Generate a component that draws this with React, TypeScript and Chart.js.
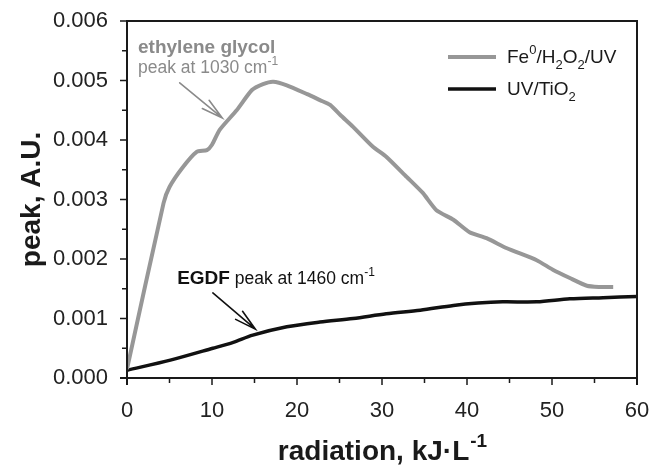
import React, { useEffect, useRef } from "react";
import { Chart, registerables } from "chart.js";

Chart.register(...registerables);

// Fe0/H2O2/UV series (gray)
const grayX = [0, 4.3, 5.0, 6.5, 8.2, 9.4, 10.0, 10.9, 12.9, 14.7, 16.0, 17.2, 18.8, 21.2, 22.7, 23.9, 25.1, 26.6, 28.9, 30.5, 32.9, 34.8, 36.4, 38.4, 40.3, 42.3, 44.7, 48.2, 50.1, 52.1, 54.1, 55.5, 57.2];
const grayY = [0.00015, 0.00294, 0.00321, 0.00353, 0.0038, 0.00383, 0.00392, 0.00417, 0.0045, 0.00484, 0.00494, 0.00498, 0.00492, 0.00477, 0.00467, 0.00459, 0.00442, 0.00422, 0.00389, 0.00372, 0.00338, 0.00311, 0.00282, 0.00266, 0.00245, 0.00235, 0.00218, 0.00198, 0.00182, 0.00168, 0.00155, 0.00153, 0.00153];

// UV/TiO2 series (black)
const blackX = [0, 5.1, 10.1, 12.5, 14.8, 18.8, 22.7, 26.6, 30.5, 34.5, 38.4, 41.3, 44.2, 48.2, 52.1, 56, 60];
const blackY = [0.00013, 0.0003, 0.0005, 0.0006, 0.00072, 0.00086, 0.00094, 0.001, 0.00108, 0.00114, 0.00122, 0.00126, 0.00128, 0.00128, 0.00133, 0.00135, 0.00137];

const xMin = 0, xMax = 60, xStep = 5, xMajor = 10;
const yMin = 0, yMax = 0.006, yStep = 0.0005, yMajor = 0.001;

const FONT = "'Liberation Sans', Arial, sans-serif";
const GRAY_LINE = "#979797";
const GRAY_TEXT = "#8a8a8a";
const BLACK = "#111111";
const AXIS = "#1a1a1a";

type Part = { t: string; s?: "sup" | "sub" };

function drawRich(ctx: CanvasRenderingContext2D, parts: Part[], x: number, y: number, size: number, color: string, bold: boolean) {
  ctx.save();
  ctx.fillStyle = color;
  ctx.textBaseline = "alphabetic";
  ctx.textAlign = "left";
  let cx = x;
  for (const p of parts) {
    const sz = p.s ? Math.round(size * 0.66) : size;
    ctx.font = `${bold ? "bold " : ""}${sz}px ${FONT}`;
    let dy = 0;
    if (p.s === "sup") dy = -size * 0.45;
    if (p.s === "sub") dy = size * 0.3;
    ctx.fillText(p.t, cx, y + dy);
    cx += ctx.measureText(p.t).width;
  }
  ctx.restore();
  return cx;
}

function drawArrow(ctx: CanvasRenderingContext2D, x1: number, y1: number, x2: number, y2: number, color: string) {
  const ang = Math.atan2(y1 - y2, x1 - x2);
  const len = 22;
  const spread = (14 * Math.PI) / 180;
  ctx.save();
  ctx.strokeStyle = color;
  ctx.lineWidth = 1.6;
  ctx.lineCap = "round";
  ctx.beginPath();
  ctx.moveTo(x1, y1);
  ctx.lineTo(x2, y2);
  ctx.moveTo(x2 + len * Math.cos(ang + spread), y2 + len * Math.sin(ang + spread));
  ctx.lineTo(x2, y2);
  ctx.lineTo(x2 + len * Math.cos(ang - spread), y2 + len * Math.sin(ang - spread));
  ctx.stroke();
  ctx.restore();
}

const decorPlugin = {
  id: "decor",
  afterDraw(chart: any) {
    const ctx: CanvasRenderingContext2D = chart.ctx;
    const ca = chart.chartArea;
    const L = ca.left, R = ca.right, T = ca.top, B = ca.bottom;
    const xs = chart.scales.x;
    const ys = chart.scales.y;

    // frame + ticks
    ctx.save();
    ctx.globalAlpha = 1;
    ctx.globalCompositeOperation = "source-over";
    ctx.setLineDash([]);
    ctx.strokeStyle = AXIS;
    ctx.lineWidth = 2;
    ctx.beginPath();
    ctx.moveTo(L, B + 7);
    ctx.lineTo(L, T);
    ctx.lineTo(R, T);
    ctx.lineTo(R, B + 7);
    ctx.moveTo(L - 7, B);
    ctx.lineTo(R, B);
    ctx.stroke();

    ctx.lineWidth = 1.5;
    ctx.beginPath();
    for (let v = xMin; v <= xMax + 1e-9; v += xStep) {
      const px = xs.getPixelForValue(v);
      const major = Math.abs(v / xMajor - Math.round(v / xMajor)) < 1e-6;
      ctx.moveTo(px, B);
      ctx.lineTo(px, B + (major ? 7 : 5));
    }
    const nY = Math.round((yMax - yMin) / yStep);
    for (let i = 0; i <= nY; i++) {
      const v = yMin + i * yStep;
      const py = ys.getPixelForValue(v);
      const major = i % Math.round(yMajor / yStep) === 0;
      ctx.moveTo(L, py);
      ctx.lineTo(L - (major ? 7 : 5), py);
    }
    ctx.stroke();
    ctx.restore();

    // axis titles
    ctx.save();
    ctx.fillStyle = AXIS;
    ctx.font = `bold 28px ${FONT}`;
    ctx.translate(40, (T + B) / 2);
    ctx.rotate(-Math.PI / 2);
    ctx.textAlign = "center";
    ctx.textBaseline = "alphabetic";
    ctx.fillText("peak, A.U.", 0, 0);
    ctx.restore();

    ctx.save();
    ctx.font = `bold 28px ${FONT}`;
    const main = "radiation, kJ·L";
    const wMain = ctx.measureText(main).width;
    ctx.font = `bold 19px ${FONT}`;
    const wSup = ctx.measureText("-1").width;
    ctx.restore();
    const tx = (L + R) / 2 - (wMain + wSup) / 2;
    const ex = drawRich(ctx, [{ t: main }], tx, 460, 28, AXIS, true);
    ctx.save();
    ctx.fillStyle = AXIS;
    ctx.font = `bold 19px ${FONT}`;
    ctx.fillText("-1", ex + 1, 447);
    ctx.restore();

    // legend
    const lx1 = R - 189, lx2 = R - 141, tX = R - 130;
    ctx.save();
    ctx.lineWidth = 4;
    ctx.strokeStyle = GRAY_LINE;
    ctx.beginPath();
    ctx.moveTo(lx1, T + 36);
    ctx.lineTo(lx2, T + 36);
    ctx.stroke();
    ctx.strokeStyle = BLACK;
    ctx.lineWidth = 3.5;
    ctx.beginPath();
    ctx.moveTo(lx1, T + 68);
    ctx.lineTo(lx2, T + 68);
    ctx.stroke();
    ctx.restore();
    drawRich(ctx, [{ t: "Fe" }, { t: "0", s: "sup" }, { t: "/H" }, { t: "2", s: "sub" }, { t: "O" }, { t: "2", s: "sub" }, { t: "/UV" }], tX, T + 42, 19, AXIS, false);
    drawRich(ctx, [{ t: "UV/TiO" }, { t: "2", s: "sub" }], tX, T + 74, 19, AXIS, false);

    // annotations
    const gx = xs.getPixelForValue(1.3);
    drawRich(ctx, [{ t: "ethylene glycol" }], gx, ys.getPixelForValue(0.00546), 19, GRAY_TEXT, true);
    drawRich(ctx, [{ t: "peak at 1030 cm" }, { t: "-1", s: "sup" }], gx, ys.getPixelForValue(0.00513), 17.5, GRAY_TEXT, false);
    drawArrow(ctx, xs.getPixelForValue(6.2), ys.getPixelForValue(0.00496), xs.getPixelForValue(11.2), ys.getPixelForValue(0.00437), GRAY_TEXT);

    const ex2 = drawRich(ctx, [{ t: "EGDF" }], xs.getPixelForValue(5.9), ys.getPixelForValue(0.00158), 19, "#111", true);
    drawRich(ctx, [{ t: " peak at 1460 cm" }, { t: "-1", s: "sup" }], ex2, ys.getPixelForValue(0.00158), 17.5, "#111", false);
    drawArrow(ctx, xs.getPixelForValue(10.1), ys.getPixelForValue(0.00143), xs.getPixelForValue(15.1), ys.getPixelForValue(0.00082), "#111");
  },
};

export default function App() {
  const ref = useRef<HTMLCanvasElement | null>(null);
  useEffect(() => {
    document.body.style.margin = "0";
    if (!ref.current) return;
    const chart = new Chart(ref.current, {
      type: "line",
      data: {
        datasets: [
          {
            label: "Fe0/H2O2/UV",
            data: grayX.map((x, i) => ({ x, y: grayY[i] })),
            borderColor: GRAY_LINE,
            borderWidth: 4,
            pointRadius: 0,
            tension: 0.2,
            fill: false,
          },
          {
            label: "UV/TiO2",
            data: blackX.map((x, i) => ({ x, y: blackY[i] })),
            borderColor: BLACK,
            borderWidth: 3.5,
            pointRadius: 0,
            tension: 0.3,
            fill: false,
          },
        ],
      },
      options: {
        animation: false,
        responsive: false,
        devicePixelRatio: 1,
        layout: { padding: { left: 0, right: 15, top: 21, bottom: 0 } },
        plugins: { legend: { display: false }, tooltip: { enabled: false }, title: { display: false } },
        scales: {
          x: {
            type: "linear",
            min: xMin,
            max: xMax,
            afterFit: (s: any) => { s.height = 88; s.paddingLeft = 0; s.paddingRight = 0; },
            afterBuildTicks: (s: any) => {
              const t = [];
              for (let v = xMin; v <= xMax + 1e-9; v += xStep) t.push({ value: v });
              s.ticks = t;
            },
            ticks: {
              autoSkip: false,
              maxRotation: 0,
              padding: 13,
              color: "#222",
              font: { family: FONT, size: 22 },
              callback: (v: any) => (Math.abs(v / xMajor - Math.round(v / xMajor)) < 1e-6 ? String(Math.round(v)) : ""),
            },
            grid: { display: true, drawOnChartArea: false, drawTicks: true, tickLength: 7, tickColor: "rgba(0,0,0,0)", color: "rgba(0,0,0,0)" },
            border: { display: true, color: AXIS, width: 2 },
          },
          y: {
            type: "linear",
            min: yMin,
            max: yMax,
            afterFit: (s: any) => { s.width = 127; s.paddingTop = 0; s.paddingBottom = 0; },
            afterBuildTicks: (s: any) => {
              const t = [];
              for (let i = 0; i <= Math.round((yMax - yMin) / yStep); i++) t.push({ value: yMin + i * yStep });
              s.ticks = t;
            },
            ticks: {
              autoSkip: false,
              padding: 12,
              color: "#222",
              font: { family: FONT, size: 22 },
              callback: (v: any) => (Math.abs(v / yMajor - Math.round(v / yMajor)) < 1e-6 ? Number(v).toFixed(3) : ""),
            },
            grid: { display: true, drawOnChartArea: false, drawTicks: true, tickLength: 7, tickColor: "rgba(0,0,0,0)", color: "rgba(0,0,0,0)" },
            border: { display: true, color: AXIS, width: 2 },
          },
        },
      },
      plugins: [decorPlugin],
    } as any);
    return () => chart.destroy();
  }, []);
  return (
    <div style={{ position: "absolute", left: 0, top: 0, width: 652, height: 466, background: "#fff" }}>
      <canvas ref={ref} width={652} height={466} />
    </div>
  );
}
